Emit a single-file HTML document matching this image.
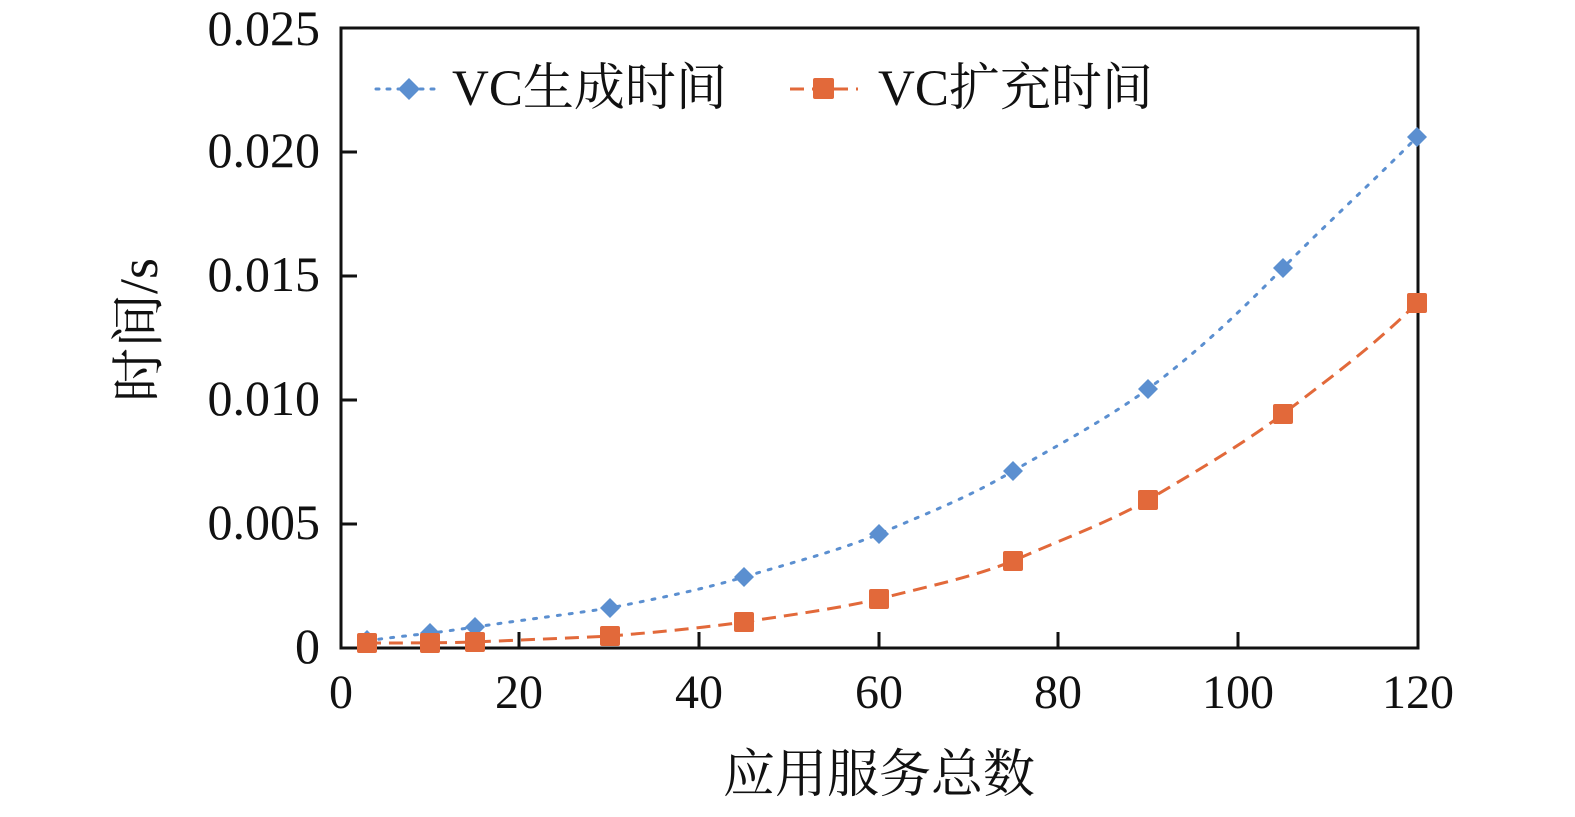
<!DOCTYPE html>
<html><head><meta charset="utf-8"><style>body{margin:0;background:#fff}svg text{font-family:"Liberation Serif","Noto Serif CJK SC",serif;fill:#111}</style></head>
<body>
<svg width="1575" height="812" xmlns="http://www.w3.org/2000/svg">
<rect x="341" y="28" width="1077" height="620" fill="none" stroke="#111" stroke-width="3"/>
<g stroke="#111" stroke-width="3">
<line x1="519" y1="648" x2="519" y2="632"/><line x1="699" y1="648" x2="699" y2="632"/>
<line x1="879" y1="648" x2="879" y2="632"/><line x1="1058" y1="648" x2="1058" y2="632"/>
<line x1="1238" y1="648" x2="1238" y2="632"/>
<line x1="341" y1="524" x2="357" y2="524"/><line x1="341" y1="400" x2="357" y2="400"/>
<line x1="341" y1="276" x2="357" y2="276"/><line x1="341" y1="152" x2="357" y2="152"/>
</g>
<g font-size="50" text-anchor="end">
<text x="320" y="663">0</text><text x="320" y="539">0.005</text><text x="320" y="415">0.010</text>
<text x="320" y="291">0.015</text><text x="320" y="167">0.020</text><text x="320" y="45">0.025</text>
</g>
<g font-size="48" text-anchor="middle">
<text x="341" y="708">0</text><text x="519" y="708">20</text><text x="699" y="708">40</text>
<text x="879" y="708">60</text><text x="1058" y="708">80</text><text x="1238" y="708">100</text><text x="1418" y="708">120</text>
</g>
<g font-size="52" text-anchor="middle">
<text x="879" y="792">应用服务总数</text>
<text transform="translate(157,330) rotate(-90)" font-size="54">时间/s</text>
</g>
<path d="M367,641 C390,637 430,634 475,627 C530,619 570,614 610,608 C660,598 700,590 744,577 C790,563 835,552 879,534 C925,514 970,497 1013,471 C1060,444 1105,420 1148,389 C1195,354 1240,312 1283,268 C1330,220 1375,180 1417,137" fill="none" stroke="#5b8fd0" stroke-width="3" stroke-dasharray="3,9" stroke-linecap="round"/>
<path d="M367,643 C400,643 440,643 475,642 C520,640 570,638 610,636 C660,632 700,628 744,622 C790,615 835,609 879,599 C925,587 970,578 1013,561 C1060,540 1105,524 1148,500 C1195,472 1240,446 1283,414 C1330,378 1375,345 1417,303" fill="none" stroke="#e2693a" stroke-width="3" stroke-dasharray="14,8"/>
<g fill="#5b8fd0">
<path d="M367,630 l10,10 -10,10 -10,-10z"/><path d="M430,623 l10,10 -10,10 -10,-10z"/><path d="M475,617 l10,10 -10,10 -10,-10z"/>
<path d="M610,598 l10,10 -10,10 -10,-10z"/><path d="M744,567 l10,10 -10,10 -10,-10z"/><path d="M879,524 l10,10 -10,10 -10,-10z"/>
<path d="M1013,461 l10,10 -10,10 -10,-10z"/><path d="M1148,379 l10,10 -10,10 -10,-10z"/><path d="M1283,258 l10,10 -10,10 -10,-10z"/>
<path d="M1417,127 l10,10 -10,10 -10,-10z"/>
<path d="M409,78 l11,11 -11,11 -11,-11z"/>
</g>
<g fill="#e2693a">
<rect x="357" y="633" width="20" height="20" rx="2"/><rect x="420" y="633" width="20" height="20" rx="2"/><rect x="465" y="632" width="20" height="20" rx="2"/>
<rect x="600" y="626" width="20" height="20" rx="2"/><rect x="734" y="612" width="20" height="20" rx="2"/><rect x="869" y="589" width="20" height="20" rx="2"/>
<rect x="1003" y="551" width="20" height="20" rx="2"/><rect x="1138" y="490" width="20" height="20" rx="2"/><rect x="1273" y="404" width="20" height="20" rx="2"/>
<rect x="1407" y="293" width="20" height="20" rx="2"/>
<rect x="813" y="78" width="21" height="21" rx="2"/>
</g>
<line x1="376" y1="89" x2="442" y2="89" stroke="#5b8fd0" stroke-width="3" stroke-dasharray="3,8" stroke-linecap="round"/>
<line x1="790" y1="89" x2="858" y2="89" stroke="#e2693a" stroke-width="3" stroke-dasharray="14,8"/>
<text x="452" y="105" font-size="51">VC生成时间</text>
<text x="878" y="105" font-size="51">VC扩充时间</text>
</svg>
</body></html>
